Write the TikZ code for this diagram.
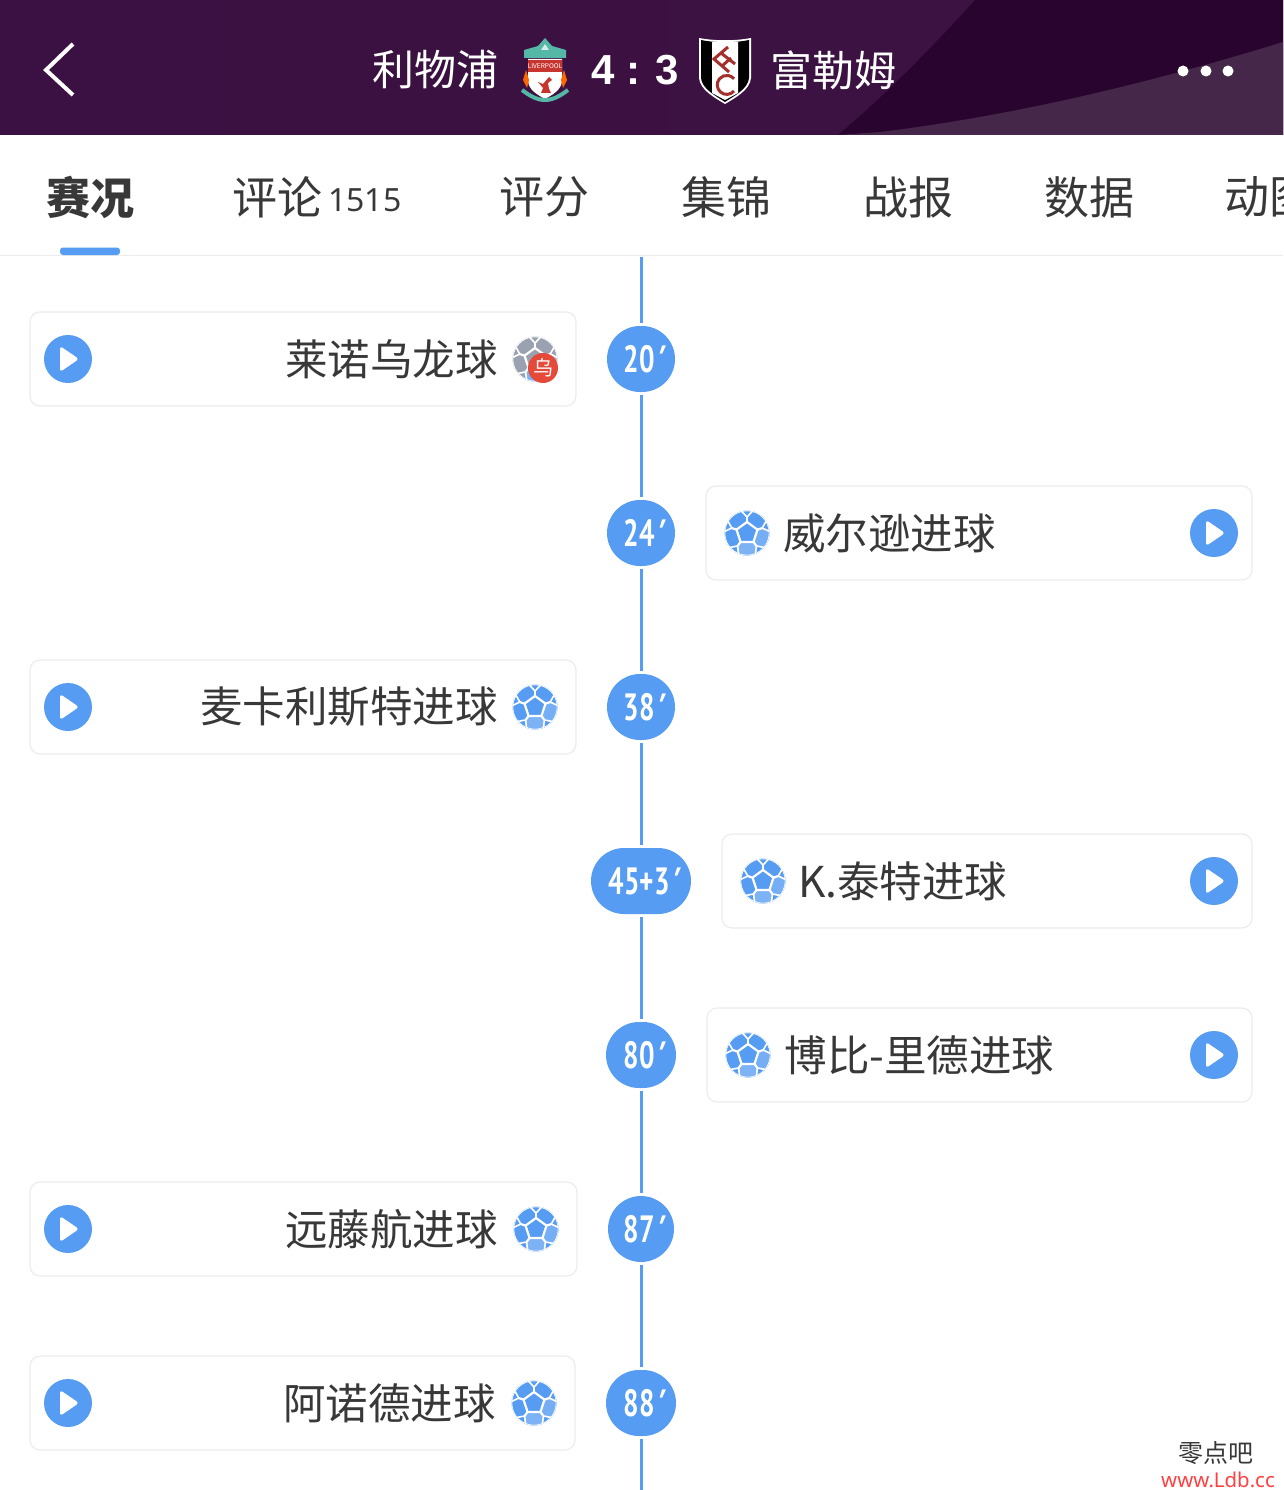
\documentclass[tikz,border=0pt]{standalone}
\usepackage{fontspec}
\setmainfont{Noto Sans CJK SC}
\newfontfamily\minutefont[FakeStretch=0.72]{PT Sans}
\newfontfamily\primefont[FakeStretch=0.9,FakeSlant=0.3]{PT Sans}
\newfontfamily\scorefont{Noto Sans}
\newfontfamily\scorebold{Liberation Sans}
\usetikzlibrary{shapes.misc}

\definecolor{headleft}{HTML}{3B1042}
\definecolor{headwedge}{HTML}{29042E}
\definecolor{headlow}{HTML}{452849}
\definecolor{badgeblue}{HTML}{569CF2}
\definecolor{balllight}{HTML}{7DB2F4}
\definecolor{cardline}{HTML}{ECECEC}
\definecolor{textgrey}{HTML}{383838}
\definecolor{ballgrey}{HTML}{9AA1B0}
\definecolor{owngoalred}{HTML}{E5493A}
\definecolor{crestteal}{HTML}{55B7A6}
\definecolor{crestred}{HTML}{C8352F}
\definecolor{fulhamred}{HTML}{A3302C}

\tikzset{
	tabtext/.style={font=\fontsize{45}{45}\selectfont, text=textgrey, inner sep=0pt},
	cardtext/.style={font=\fontsize{42.5}{42.5}\selectfont, text=textgrey, inner sep=0pt},
	titletext/.style={font=\fontsize{42}{42}\selectfont, text=white, inner sep=0pt},
	card/.style={draw=cardline, line width=1.2pt, fill=white, rounded corners=10pt, minimum height=94pt, inner sep=0pt},
	minute/.style={shape=rounded rectangle, fill=badgeblue, text=white, font=\minutefont\bfseries\fontsize{38}{38}\selectfont, minimum height=66pt, inner sep=0pt, outer sep=3pt},
	timeline/.style={draw=badgeblue, line width=3pt}
}

\def\primemark{{\primefont\bfseries\kern-3pt '\kern-2pt}}
\def\playicon(#1){
	\begin{scope}[shift={(#1)}]
		\fill[badgeblue] (0,0) circle (24);
		\fill[white, rounded corners=3pt] (-8,-13) -- (11,0) -- (-8,13) -- cycle;
	\end{scope}
}
\def\ballicon(#1)[#2]{
	\begin{scope}[shift={(#1)}]
		\fill[#2] (0,0) circle (22.5);
		\begin{scope}
			\clip (0,0) circle (22.5);
			\fill[balllight] (54:11) -- (126:11) -- (126:16) -- (112:30) -- (68:30) -- (54:16) -- cycle;
			\fill[#2!82!white] (342:11) -- (54:11) -- (54:16) -- (40:30) -- (356:30) -- (342:16) -- cycle;
			\foreach \a in {270,342,54,126,198} {
				\draw[white, line width=2.2pt] (\a:11) -- (\a:16);
				\draw[white, line width=1.6pt] (\a-16:24) -- (\a:16) -- (\a+16:24);
			}
			\draw[white, line width=1.4pt] (0,0) circle (22.5);
		\end{scope}
		\draw[white, line width=2.2pt, line join=round] (270:11) -- (342:11) -- (54:11) -- (126:11) -- (198:11) -- cycle;
	\end{scope}
}

\begin{document}
\begin{tikzpicture}[x=1pt, y=-1pt]
	\useasboundingbox (0,0) rectangle (1283,1490);
	\begin{scope}
	\clip (0,0) rectangle (1283,1490);
	%%%%% HEADER %%%%%

	\fill[left color=headleft, right color=headleft!88!headlow] (0,0) rectangle (1283,135);
	\fill[headwedge] (975,0) .. controls (930,50) and (880,100) .. (838,135) -- (1283,135) -- (1283,0) -- cycle;
	\fill[headlow] (838,135) -- (880,132) .. controls (1020,115) and (1160,80) .. (1283,42) -- (1283,135) -- cycle;

	\draw[white, line width=4pt] (73,44) -- (46,70) -- (73,95);
	\node[titletext, anchor=east] (hometeam) at (499,70) {利物浦};
	\node[titletext, anchor=west] (awayteam) at (770,70) {富勒姆};
	\node[text=white, inner sep=0pt, font=\scorebold\bfseries\fontsize{42}{42}\selectfont] (score) at (635,70) {4 : 3};
	\foreach \x in {1183,1206,1228} \fill[white] (\x,71) circle (5.5);

	% liverpool crest
	\fill[crestteal] (545,38) -- (552,46) -- (566,50) -- (566,58) -- (524,58) -- (524,50) -- (538,46) -- cycle;
	\fill[white!75!crestteal] (545,44) -- (549,50) -- (541,50) -- cycle;
	\fill[white] (528,59) -- (562,59) -- (562,80) .. controls (562,90) and (552,95) .. (545,99) .. controls (538,95) and (528,90) .. (528,80) -- cycle;
	\fill[crestred] (528,60) rectangle (562,72);
	\node[text=white, inner sep=0pt, font=\fontsize{6.5}{6.5}\selectfont] (crestname) at (545,66) {LIVERPOOL};
	\fill[crestred] (549,77) -- (552,80) -- (548,83) -- (549,89) -- (551,93) -- (541,93) -- (543,88) -- (538,82) -- (543,84) -- cycle;
	\fill[orange!80!red] (523,80) -- (526,70) -- (529,80) -- (527,88) -- cycle;
	\fill[orange!80!red] (567,80) -- (564,70) -- (561,80) -- (563,88) -- cycle;
	\draw[crestteal, line width=4pt] (522,90) .. controls (530,96) and (537,100) .. (545,100) .. controls (553,100) and (560,96) .. (568,90);

	% fulham crest
	\fill[white] (699,38) .. controls (715,41) and (735,41) .. (751,38) -- (751,78) .. controls (750,90) and (735,98) .. (725,104) .. controls (715,98) and (700,90) .. (699,78) -- cycle;
	\fill[black] (701,40) .. controls (715,43) and (735,43) .. (749,40) -- (749,78) .. controls (748,89) and (734,96) .. (725,102) .. controls (716,96) and (702,89) .. (701,78) -- cycle;
	\fill[white] (712,42) -- (738,42) -- (738,93) -- (725,100) -- (712,93) -- cycle;
	\draw[fulhamred, line width=3pt] (728,47) -- (714,59) -- (729,72);
	\draw[fulhamred, line width=3pt] (721,53) -- (735,64);
	\draw[fulhamred, line width=3pt] (722,66) -- (731,58);
	\draw[fulhamred, line width=3pt] (734,91) arc (40:320:9.5 and 9.5);

	%%%%% TABS %%%%%

	\node[tabtext, font=\bfseries\fontsize{44}{44}\selectfont] (tabmatch) at (90,197) {赛况};
	\node[tabtext, anchor=west] (tabcomment) at (232,197) {评论};
	\node[tabtext, anchor=west, font=\scorefont\fontsize{32}{32}\selectfont] (tabcount) at (328,200) {1515};
	\node[tabtext] (tabrating) at (544,197) {评分};
	\node[tabtext] (tabhighlight) at (726,197) {集锦};
	\node[tabtext] (tabreport) at (908,197) {战报};
	\node[tabtext] (tabdata) at (1089,197) {数据};
	\node[tabtext, anchor=west] (tabgif) at (1224,197) {动图};

	\draw[cardline, line width=1.5pt] (0,255.5) -- (1283,255.5);
	\fill[badgeblue, rounded corners=3pt] (60,247.5) rectangle (120,255);

	%%%%% TIMELINE %%%%%

	\coordinate (linetop) at (641,257);
	\coordinate (linebottom) at (641,1490);
	\node[minute, minimum width=68pt] (m20) at (641,359) {20\primemark};
	\node[minute, minimum width=68pt] (m24) at (641,533) {24\primemark};
	\node[minute, minimum width=68pt] (m38) at (641,707) {38\primemark};
	\node[minute, minimum width=100pt] (m45) at (641,881) {45+3\primemark};
	\node[minute, minimum width=70pt] (m80) at (641,1055) {80\primemark};
	\node[minute, minimum width=66pt] (m87) at (641,1229) {87\primemark};
	\node[minute, minimum width=70pt] (m88) at (641,1403) {88\primemark};

	\draw[timeline] (linetop) -- (m20);
	\draw[timeline] (m20) -- (m24);
	\draw[timeline] (m24) -- (m38);
	\draw[timeline] (m38) -- (m45);
	\draw[timeline] (m45) -- (m80);
	\draw[timeline] (m80) -- (m87);
	\draw[timeline] (m87) -- (m88);
	\draw[timeline] (m88) -- (linebottom);

	%%%%% LEFT CARDS %%%%%

	\node[card, minimum width=546pt] (card20) at (303,359) {};
	\playicon(68,359);
	\node[cardtext, anchor=east] (text20) at (498,359) {莱诺乌龙球};
	\ballicon(535,359)[ballgrey];
	\fill[owngoalred] (543,368) circle (15);
	\node[text=white, inner sep=0pt, font=\fontsize{20}{20}\selectfont] (own20) at (543,368) {乌};

	\node[card, minimum width=546pt] (card38) at (303,707) {};
	\playicon(68,707);
	\node[cardtext, anchor=east] (text38) at (498,707) {麦卡利斯特进球};
	\ballicon(535,707)[badgeblue];

	\node[card, minimum width=547pt] (card87) at (303.5,1229) {};
	\playicon(68,1229);
	\node[cardtext, anchor=east] (text87) at (498,1229) {远藤航进球};
	\ballicon(536,1229)[badgeblue];

	\node[card, minimum width=545pt] (card88) at (302.5,1403) {};
	\playicon(68,1403);
	\node[cardtext, anchor=east] (text88) at (496,1403) {阿诺德进球};
	\ballicon(534,1403)[badgeblue];

	%%%%% RIGHT CARDS %%%%%

	\node[card, minimum width=546pt] (card24) at (979,533) {};
	\ballicon(747,533)[badgeblue];
	\node[cardtext, anchor=west] (text24) at (783,533) {威尔逊进球};
	\playicon(1214,533);

	\node[card, minimum width=530pt] (card45) at (987,881) {};
	\ballicon(763,881)[badgeblue];
	\node[cardtext, anchor=west] (text45) at (798,881) {K.泰特进球};
	\playicon(1214,881);

	\node[card, minimum width=545pt] (card80) at (979.5,1055) {};
	\ballicon(748,1055)[badgeblue];
	\node[cardtext, anchor=west] (text80) at (784.5,1055) {博比-里德进球};
	\playicon(1214,1055);

	%%%%% WATERMARK %%%%%

	\node[inner sep=0pt, text=textgrey, font=\fontsize{25}{25}\selectfont] (markname) at (1216,1453) {零点吧};
	\node[inner sep=0pt, text=red!75!white, font=\scorefont\fontsize{20.4}{20.4}\selectfont] (markurl) at (1218,1480) {www.Ldb.cc};
	\end{scope}
\end{tikzpicture}
\end{document}
